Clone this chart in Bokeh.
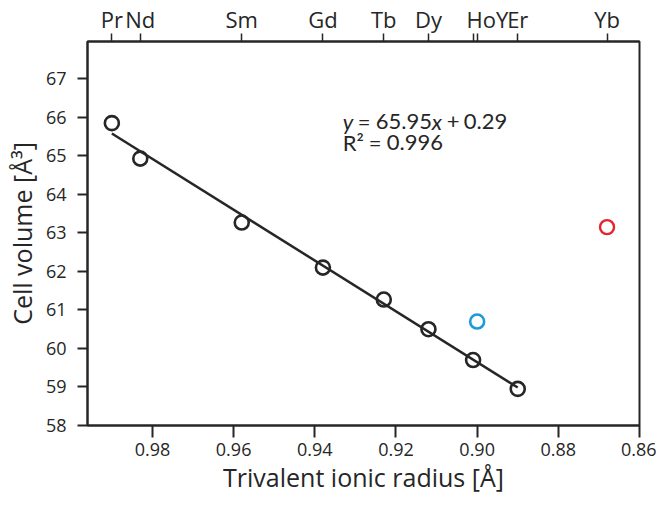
import numpy as np
from bokeh.plotting import figure
from bokeh.models import (Range1d, LinearAxis, FixedTicker, PrintfTickFormatter,
                          Label)
from bokeh.embed import file_html
from bokeh.resources import INLINE

# ---------------- data ----------------
elements = ["Pr", "Nd", "Sm", "Gd", "Tb", "Dy", "Ho", "Er"]
radius = [0.990, 0.983, 0.958, 0.938, 0.923, 0.912, 0.901, 0.890]
volume = [65.85, 64.93, 63.27, 62.10, 61.27, 60.50, 59.70, 58.95]

y_radius = [0.900]
y_volume = [60.70]
yb_radius = [0.868]
yb_volume = [63.15]

top_elements = ["Pr", "Nd", "Sm", "Gd", "Tb", "Dy", "Ho", "Y", "Er", "Yb"]
top_radius = [0.990, 0.983, 0.958, 0.938, 0.923, 0.912, 0.901, 0.900, 0.890, 0.868]

fit_slope = 65.95
fit_intercept = 0.29
eq_line1 = ["y", "=", "65.95", "x", "+", "0.29"]
eq_line2 = ["R²", "=", "0.996"]

x_ticks = [0.98, 0.96, 0.94, 0.92, 0.90, 0.88, 0.86]
y_ticks = [58, 59, 60, 61, 62, 63, 64, 65, 66, 67]

x_title = "Trivalent ionic radius [Å]"
y_title = "Cell volume [Å³]"

# ---------------- style ----------------
INK = "#262626"
FONT = "Open Sans"
EQ_FONT = "Lato"
X0, X1 = 0.996, 0.86
Y0, Y1 = 58, 67.97
NB = "\u00a0"

p = figure(width=656, height=497, output_backend="svg", toolbar_location=None,
           x_range=Range1d(X0, X1), y_range=Range1d(Y0, Y1),
           min_border_left=87, min_border_right=17, min_border_top=38,
           min_border_bottom=72)
p.grid.visible = False
p.outline_line_color = INK
p.outline_line_width = 2
p.background_fill_color = "white"
p.border_fill_color = "white"

xa = p.xaxis[0]
xa.ticker = FixedTicker(ticks=x_ticks)
xa.formatter = PrintfTickFormatter(format="%.2f")
xa.axis_label = x_title
ya = p.yaxis[0]
ya.ticker = FixedTicker(ticks=y_ticks)
ya.axis_label = y_title

for ax in (xa, ya):
    ax.axis_line_color = INK
    ax.axis_line_width = 2
    ax.major_tick_line_color = INK
    ax.major_tick_line_width = 2
    ax.major_tick_in = 0
    ax.minor_tick_line_color = None
    ax.major_label_text_font = FONT
    ax.major_label_text_font_size = "18px"
    ax.major_label_text_color = INK
    ax.axis_label_text_font = FONT
    ax.axis_label_text_font_size = "25px"
    ax.axis_label_text_font_style = "normal"
    ax.axis_label_text_color = INK
xa.major_tick_out = 12
xa.major_label_standoff = 5
xa.axis_label_standoff = 1
ya.major_tick_out = 10
ya.major_label_standoff = 11
ya.axis_label_standoff = 4

# top axis with element names
overrides = {}
for r, e in zip(top_radius, top_elements):
    overrides[r] = e
overrides[0.901] = NB * 5 + "HoY"   # Ho and Y share one label, as in the original
overrides[0.900] = ""
ta = LinearAxis(ticker=FixedTicker(ticks=top_radius),
                major_label_overrides=overrides)
ta.major_label_text_font = FONT
ta.major_label_text_font_size = "22px"
ta.major_label_text_color = INK
ta.major_label_standoff = 0
ta.axis_line_color = INK
ta.axis_line_width = 2
ta.major_tick_line_color = INK
ta.major_tick_line_width = 1.5
ta.major_tick_in = 0
ta.major_tick_out = 8
ta.minor_tick_line_color = None
p.add_layout(ta, "above")

# fit line
fx = np.array([max(radius), min(radius)])
fy = fit_slope * fx + fit_intercept
p.line(fx, fy, line_color=INK, line_width=2.5)

# points
p.scatter(radius, volume, size=14, marker="circle", fill_color=None,
          line_color=INK, line_width=2.6)
p.scatter(y_radius, y_volume, size=14, marker="circle", fill_color=None,
          line_color="#1a9ad9", line_width=2.6)
p.scatter(yb_radius, yb_volume, size=14, marker="circle", fill_color=None,
          line_color="#e3262c", line_width=2.4)

# equation
eq_x = 0.9331
l1_off = [0, 15, 33, 89, 104, 121]
l1_sty = ["italic", "normal", "normal", "italic", "normal", "normal"]
for t, off, st in zip(eq_line1, l1_off, l1_sty):
    p.add_layout(Label(x=eq_x, y=65.90, x_offset=off, text=t,
                       text_font=EQ_FONT, text_font_size="22px",
                       text_font_style=st, text_color=INK,
                       text_baseline="alphabetic"))
l2_off = [0, 26, 44]
for t, off in zip(eq_line2, l2_off):
    p.add_layout(Label(x=eq_x, y=65.35, x_offset=off, text=t,
                       text_font=EQ_FONT, text_font_size="22px",
                       text_color=INK, text_baseline="alphabetic"))

open("out.html", "w").write(file_html(p, INLINE))
